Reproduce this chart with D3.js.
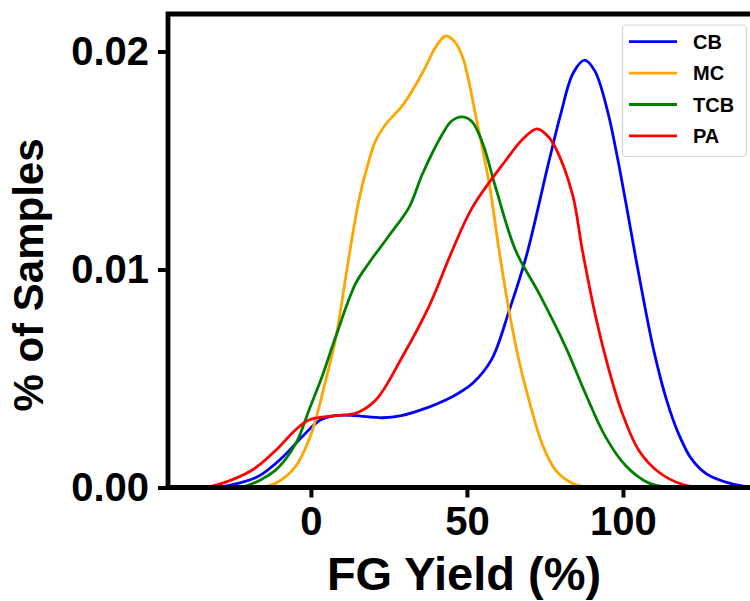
<!DOCTYPE html>
<html>
<head>
<meta charset="utf-8">
<script src="https://cdn.jsdelivr.net/npm/d3@7"></script>
<style>
  body { margin: 0; background: #fff; }
  svg { display: block; font-family: "Liberation Sans", Arial, sans-serif; font-weight: bold; }
</style>
</head>
<body>
<div id="chart"></div>
<script>
// density curves (x = FG yield %, y = fraction of samples)
const seriesNames = ["CB", "MC", "TCB", "PA"];
const seriesColors = ["#0000ff", "#ffa500", "#008000", "#ff0000"];

const cbX = [-31, -26, -17, -9, -3, 3, 8, 14, 23, 29, 38, 43, 47, 52, 58, 63.5, 69, 76, 80, 84, 87.7, 91, 95, 98, 101, 104, 107, 110, 114, 118, 122, 127, 134, 141];
const cbY = [0, 0.0001, 0.0005, 0.0014, 0.0023, 0.0031, 0.0033, 0.0033, 0.0032, 0.0033, 0.0037, 0.0040, 0.0043, 0.0048, 0.0059, 0.0081, 0.0106, 0.0148, 0.0171, 0.0190, 0.0196, 0.0191, 0.0173, 0.0153, 0.0130, 0.0106, 0.0083, 0.0062, 0.0040, 0.0024, 0.0013, 0.0006, 0.0002, 0];

const mcX = [-17.3, -11.3, -4.9, -0.6, 1.5, 4.7, 7.9, 12.2, 15.4, 18.6, 20.7, 23.9, 29.5, 35.9, 39.1, 41.3, 43.2, 46.1, 48.7, 53.1, 57.3, 60.3, 63.5, 66.7, 69.9, 74.1, 78.4, 83.7, 89.1];
const mcY = [0, 0.0002, 0.00097, 0.0022, 0.0031, 0.0049, 0.0068, 0.0106, 0.0132, 0.0150, 0.0159, 0.01665, 0.01755, 0.01906, 0.01998, 0.02048, 0.02071, 0.02044, 0.0197, 0.01686, 0.0138, 0.01087, 0.0081, 0.0058, 0.0040, 0.0020, 0.0008, 0.0002, 0];

const tcbX = [-24.4, -20.9, -11.3, -4.9, -0.6, 3.6, 7.9, 14.3, 18.6, 25.0, 31.4, 35.7, 42.1, 45, 48.3, 51.5, 55, 59.2, 65.6, 73.1, 81.6, 88.0, 94.5, 100.9, 108.3, 114.7];
const tcbY = [0, 0.00006, 0.0008, 0.0020, 0.00356, 0.0051, 0.0069, 0.00935, 0.0103, 0.01155, 0.01284, 0.01437, 0.0162, 0.0168, 0.0170, 0.0168, 0.0158, 0.01376, 0.01087, 0.0089, 0.00645, 0.0043, 0.0023, 0.001, 0.0002, 0];

const paX = [-34.3, -29.5, -18.8, -11.3, -4.9, -0.6, 7.9, 14.3, 20.7, 29.3, 37.8, 45.3, 51.7, 62.4, 68, 72.5, 76, 78.4, 83.8, 87.0, 91.3, 95.5, 99.8, 105.1, 111.5, 119.0, 124.4];
const paY = [0, 0.00014, 0.0008, 0.0017, 0.00265, 0.0031, 0.0033, 0.0034, 0.0040, 0.0060, 0.0083, 0.01087, 0.01284, 0.0150, 0.0160, 0.01645, 0.0161, 0.01558, 0.01346, 0.01087, 0.0078, 0.0054, 0.0034, 0.0017, 0.0007, 0.00014, 0];

const xTicks = [0, 50, 100];
const yTicks = [0, 0.01, 0.02];

const seriesX = [cbX, mcX, tcbX, paX];
const seriesY = [cbY, mcY, tcbY, paY];

const W = 750, H = 601;
const mLeft = 168, mRight = 750, mTop = 14, mBottom = 487.5;

const svg = d3.select("#chart").append("svg").attr("width", W).attr("height", H);

const x = d3.scaleLinear().domain([-45.8, 140.7]).range([mLeft, mRight]);
const y = d3.scaleLinear().domain([0, 0.02172]).range([mBottom, mTop]);

svg.append("clipPath").attr("id", "plot")
  .append("rect").attr("x", mLeft).attr("y", mTop).attr("width", mRight - mLeft).attr("height", mBottom - mTop);

const line = d3.line().x(d => x(d[0])).y(d => y(d[1])).curve(d3.curveCatmullRom.alpha(0.5));

seriesNames.forEach((name, i) => {
  const pts = seriesX[i].map((v, j) => [v, seriesY[i][j]]);
  svg.append("path")
    .attr("clip-path", "url(#plot)")
    .attr("d", line(pts))
    .attr("fill", "none")
    .attr("stroke", seriesColors[i])
    .attr("stroke-width", 2.8)
    .attr("stroke-linejoin", "round");
});

// axes
const xAxis = svg.append("g").attr("transform", `translate(0,${mBottom})`)
  .call(d3.axisBottom(x).tickValues(xTicks).tickSize(10).tickPadding(9).tickFormat(d3.format("d")));
const yAxis = svg.append("g").attr("transform", `translate(${mLeft},0)`)
  .call(d3.axisLeft(y).tickValues(yTicks).tickSize(10).tickPadding(9).tickFormat(d3.format(".2f")));

[xAxis, yAxis].forEach(g => {
  g.select(".domain").remove();
  g.selectAll(".tick line").attr("stroke", "#000").attr("stroke-width", 4);
  g.selectAll(".tick text").attr("fill", "#000").style("font-size", "40px").style("font-weight", "bold")
    .style("font-family", "'Liberation Sans', Arial, sans-serif");
});

// spines: left, bottom, top (right side runs off the canvas)
svg.append("path")
  .attr("d", `M${mRight + 5},${mTop}H${mLeft}V${mBottom}H${mRight + 5}`)
  .attr("fill", "none").attr("stroke", "#000").attr("stroke-width", 4.8);

// axis titles
svg.append("text")
  .attr("x", 464).attr("y", 590)
  .attr("text-anchor", "middle")
  .style("font-size", "47px")
  .text("FG Yield (%)");

svg.append("text")
  .attr("transform", `translate(43,275) rotate(-90)`)
  .attr("text-anchor", "middle")
  .style("font-size", "42px")
  .text("% of Samples");

// legend
const lg = svg.append("g");
lg.append("rect")
  .attr("x", 622.5).attr("y", 25).attr("width", 124).attr("height", 131.5).attr("rx", 4)
  .attr("fill", "#fff").attr("fill-opacity", 0.85)
  .attr("stroke", "#d3d3d3").attr("stroke-width", 1.2);

seriesNames.forEach((name, i) => {
  const ly = 41.7 + i * 31.4;
  lg.append("line")
    .attr("x1", 629).attr("x2", 677).attr("y1", ly).attr("y2", ly)
    .attr("stroke", seriesColors[i]).attr("stroke-width", 2.8);
  lg.append("text")
    .attr("x", 693).attr("y", ly).attr("dy", "0.36em")
    .style("font-size", "20px")
    .text(name);
});
</script>
</body>
</html>
